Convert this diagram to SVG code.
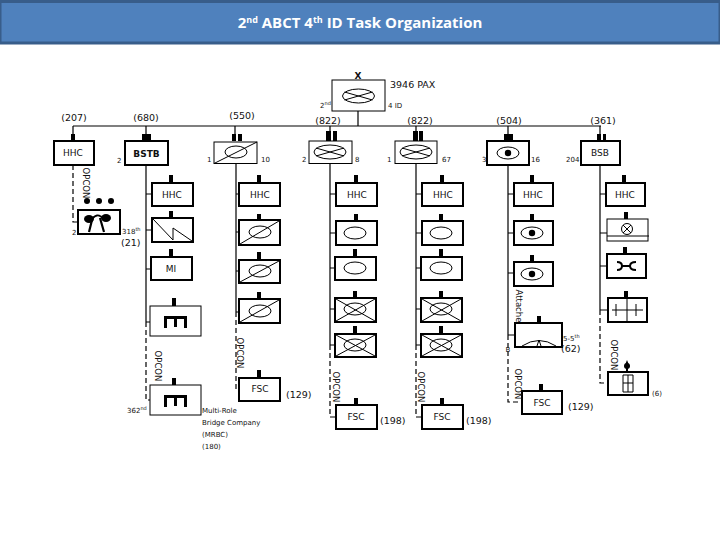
<svg xmlns="http://www.w3.org/2000/svg" width="720" height="540" viewBox="0 0 720 540">
<style>
text{font-family:"DejaVu Sans","Liberation Sans",sans-serif;font-size:9px;fill:#111}
.s{font-size:7px}
.l{font-size:9.5px}
.m{text-anchor:middle}
.b{font-weight:bold}
.h{font-family:"Open Sans","Liberation Sans",sans-serif;font-weight:bold;font-size:15px;fill:#fff;text-anchor:middle}
.v{font-size:8.5px;text-anchor:middle}
.n{fill:#fff;stroke:#000;stroke-width:2}
.t{fill:#fff;stroke:#000;stroke-width:1}
.i{fill:none;stroke:#000;stroke-width:1}
.c{fill:none;stroke:#000;stroke-width:1.2}
.d{fill:none;stroke:#000;stroke-width:1.2;stroke-dasharray:5 3}
.k{fill:#000;stroke:none}
</style>
<defs>
<g id="eye"><ellipse class="i" rx="11" ry="6"/><circle class="k" r="3.2"/></g>
<g id="oval"><ellipse class="i" rx="11" ry="6"/></g>
<g id="xoval"><ellipse class="i" rx="16" ry="7"/><path class="i" d="M-14-4 14 4M-14 4 14-4"/></g>
<g id="bridge"><path d="M-10 7V-3.500H10V7M0-3.500V6" fill="none" stroke="#000" stroke-width="3"/></g>
</defs>
<g id="title"><rect x="0" y="1.500" width="720" height="41.500" fill="#4f81bd" stroke="#385d8a" stroke-width="3"/><text class="h" x="360" y="28">2<tspan font-size="9" dy="-5">nd</tspan><tspan dy="5"> ABCT 4</tspan><tspan font-size="9" dy="-5">th</tspan><tspan dy="5"> ID Task Organization</tspan></text></g>
<g id="connectors">
<path class="c" d="M73 126H601M358 111V126M73 126V141M146 126V141M235 126V141M330 126V141M416 126V141M508 126V141M600 126V141"/>
<path class="c" d="M146 165V322M146 194H152M146 230H152M146 269H151M146 322H150"/>
<path class="c" d="M236 163V312M236 194H239M236 232H239M236 271H239M236 312H239"/>
<path class="c" d="M330 163V345M330 194H336M330 233H336M330 268H335M330 309H335M330 345H335"/>
<path class="c" d="M416 163V345M416 194H422M416 233H422M416 268H421M416 309H421M416 345H421"/>
<path class="c" d="M508 165V335M508 194H514M508 233H514M508 273H514M508 335H515"/>
<path class="c" d="M600 165V310M600 194H606M600 233H607M600 266H607M600 310H608"/>
<path class="d" d="M73 165V222H78M146 322V400H150M236 312V389H239M330 345V417H336M416 345V417H422M508 335V402H522M600 310V383H608"/>
<g fill="#000">
<rect x="71" y="134" width="4" height="7"/><rect x="142" y="134" width="9" height="7"/><rect x="232" y="134" width="4" height="7"/><rect x="238" y="134" width="4" height="7"/><rect x="326" y="131" width="5" height="10"/><rect x="333" y="131" width="4" height="10"/><rect x="413" y="131" width="5" height="10"/><rect x="419" y="131" width="4" height="10"/><rect x="504" y="134" width="9" height="7"/><rect x="597" y="134" width="4" height="7"/><rect x="603" y="134" width="3" height="7"/>
<rect x="169" y="175" width="4" height="8"/><rect x="169" y="211" width="4" height="7"/><rect x="169" y="249" width="4" height="8"/><rect x="172" y="298" width="4" height="8"/><rect x="172" y="378" width="4" height="7"/>
<rect x="257" y="175" width="4" height="8"/><rect x="257" y="214" width="4" height="6"/><rect x="257" y="252" width="4" height="8"/><rect x="257" y="292" width="4" height="7"/><rect x="257" y="370" width="4" height="8"/>
<rect x="354" y="175" width="4" height="8"/><rect x="354" y="214" width="4" height="7"/><rect x="353" y="249" width="4" height="8"/><rect x="353" y="291" width="4" height="7"/><rect x="353" y="326" width="4" height="8"/><rect x="354" y="398" width="4" height="7"/>
<rect x="440" y="175" width="4" height="8"/><rect x="439" y="214" width="4" height="7"/><rect x="439" y="249" width="4" height="8"/><rect x="439" y="291" width="4" height="7"/><rect x="439" y="326" width="4" height="8"/><rect x="440" y="398" width="4" height="7"/>
<rect x="530" y="175" width="4" height="8"/><rect x="530" y="214" width="4" height="7"/><rect x="530" y="255" width="4" height="7"/><rect x="537" y="316" width="4" height="7"/><rect x="539" y="384" width="4" height="7"/>
<rect x="622" y="175" width="4" height="8"/><rect x="624" y="212" width="4" height="7"/><rect x="623" y="247" width="4" height="7"/><rect x="624" y="291" width="4" height="7"/>
</g>
</g>
<g id="top"><rect class="t" x="332" y="80" width="53" height="31"/><use href="#xoval" x="358.500" y="96"/><text class="m b" x="358" y="79">X</text><text x="390" y="88" class="l">3946 PAX</text><text x="320" y="108" class="s">2<tspan font-size="5" dy="-3">nd</tspan></text><text x="388" y="108" class="s">4 ID</text></g>
<g id="hhc-bde"><rect class="n" x="54" y="141" width="40" height="24"/><text class="m" x="73" y="156">HHC</text><text class="m l" x="74" y="121">(207)</text></g>
<g id="bstb"><rect class="n" x="125" y="141" width="43" height="24"/><text class="m b" x="146.500" y="157" font-size="10.500">BSTB</text><text class="s" x="117" y="163">2</text><text class="m l" x="146" y="121">(680)</text></g>
<g id="bstb-hhc"><rect class="n" x="152" y="183" width="41" height="23"/><text class="m" x="172" y="198">HHC</text></g>
<g id="signal"><rect class="n" x="152" y="218" width="41" height="24"/><path class="i" d="M153 219 173 240V228L192 241"/><text class="s" x="122" y="233.500">318<tspan font-size="5" dy="-3">th</tspan></text><text class="l" x="121" y="245.500">(21)</text></g>
<g id="mi"><rect class="n" x="151" y="257" width="41" height="23"/><text class="m" x="171" y="272">MI</text></g>
<g id="engineer-1"><rect class="t" x="150" y="306" width="51" height="30"/><use href="#bridge" x="175.500" y="321"/></g>
<g id="engineer-2"><rect class="t" x="150" y="385" width="51" height="30"/><use href="#bridge" x="175.500" y="400"/><text class="v" transform="translate(155 366) rotate(90)">OPCON</text><text class="s" x="127" y="413">362<tspan font-size="5" dy="-3">nd</tspan></text><text class="s" x="202" y="413">Multi-Role</text><text class="s" x="202" y="425">Bridge Company</text><text class="s" x="202" y="437">(MRBC)</text><text class="s" x="202" y="449">(180)</text></g>
<g id="ab-recon"><rect class="n" x="78" y="210" width="42" height="24"/><path d="M89 232 92 220M104 232 100 218" fill="none" stroke="#000" stroke-width="2.200"/><path d="M90 222Q97 210 104 220" fill="none" stroke="#000" stroke-width="1.800"/><ellipse class="k" cx="89" cy="219" rx="5" ry="4"/><ellipse class="k" cx="106" cy="218" rx="5" ry="4"/><circle class="k" cx="87" cy="201" r="3"/><circle class="k" cx="99" cy="201" r="3"/><circle class="k" cx="111" cy="201" r="3"/><text class="s" x="72" y="235">2</text><text class="v" transform="translate(83 183) rotate(90)">OPCON</text></g>
<g id="cab1"><rect class="t" x="214" y="142" width="43" height="21.500"/><path class="i" d="M214 163.500 257 142"/><use href="#oval" x="236" y="152"/><text class="s" x="207" y="162">1</text><text class="s" x="261" y="162">10</text><text class="m l" x="242" y="119">(550)</text></g>
<g id="c1"><rect class="n" x="239" y="183" width="41" height="23"/><text class="m" x="260" y="198">HHC</text></g>
<g id="c2"><rect class="n" x="239" y="220" width="41" height="25"/><use href="#oval" x="260" y="232"/><path class="i" d="M240 244 279 221"/></g>
<g id="c3"><rect class="n" x="239" y="260" width="41" height="23"/><use href="#oval" x="260" y="271"/><path class="i" d="M240 282 279 261"/></g>
<g id="c4"><rect class="n" x="239" y="299" width="41" height="24"/><use href="#oval" x="260" y="311"/><path class="i" d="M240 322 279 300"/></g>
<g id="c5"><rect class="n" x="239" y="378" width="41" height="23"/><text class="m" x="260" y="392">FSC</text><text class="l" x="286" y="398">(129)</text><text class="v" transform="translate(237 353) rotate(90)">OPCON</text></g>
<g id="cab2"><rect class="t" x="309" y="141" width="43" height="22.500"/><use href="#xoval" x="330" y="152"/><text class="s" x="302" y="162">2</text><text class="s" x="355" y="162">8</text><text class="m l" x="328" y="124">(822)</text></g>
<g id="d1"><rect class="n" x="336" y="183" width="41" height="23"/><text class="m" x="357" y="198">HHC</text></g>
<g id="d2"><rect class="n" x="336" y="221" width="41" height="24"/><use href="#oval" x="355" y="233"/></g>
<g id="d3"><rect class="n" x="335" y="257" width="41" height="23"/><use href="#oval" x="355" y="268"/></g>
<g id="d4"><rect class="n" x="335" y="298" width="41" height="24"/><path class="i" d="M336 299 375 321M336 321 375 299"/><use href="#oval" x="355" y="309"/></g>
<g id="d5"><rect class="n" x="335" y="334" width="41" height="23"/><path class="i" d="M336 335 375 356M336 356 375 335"/><use href="#oval" x="355" y="345"/></g>
<g id="d6"><rect class="n" x="336" y="405" width="41" height="24"/><text class="m" x="356" y="420">FSC</text><text class="l" x="380" y="424">(198)</text><text class="v" transform="translate(333 387) rotate(90)">OPCON</text></g>
<g id="cab3"><rect class="t" x="395" y="141" width="42" height="22.500"/><use href="#xoval" x="416" y="152"/><text class="s" x="387" y="162">1</text><text class="s" x="442" y="162">67</text><text class="m l" x="420" y="124">(822)</text></g>
<g id="e1"><rect class="n" x="422" y="183" width="41" height="23"/><text class="m" x="443" y="198">HHC</text></g>
<g id="e2"><rect class="n" x="422" y="221" width="41" height="24"/><use href="#oval" x="441" y="233"/></g>
<g id="e3"><rect class="n" x="421" y="257" width="41" height="23"/><use href="#oval" x="441" y="268"/></g>
<g id="e4"><rect class="n" x="421" y="298" width="41" height="24"/><path class="i" d="M422 299 461 321M422 321 461 299"/><use href="#oval" x="441" y="309"/></g>
<g id="e5"><rect class="n" x="421" y="334" width="41" height="23"/><path class="i" d="M422 335 461 356M422 356 461 335"/><use href="#oval" x="441" y="345"/></g>
<g id="e6"><rect class="n" x="422" y="405" width="41" height="24"/><text class="m" x="442" y="420">FSC</text><text class="l" x="466" y="424">(198)</text><text class="v" transform="translate(418 387) rotate(90)">OPCON</text></g>
<g id="recon"><rect class="n" x="487" y="141" width="42" height="24"/><use href="#eye" x="508" y="153"/><text class="s" x="482" y="162">3</text><text class="s" x="531" y="162">16</text><text class="m l" x="509" y="124">(504)</text></g>
<g id="f1"><rect class="n" x="514" y="183" width="39" height="23"/><text class="m" x="533" y="198">HHC</text></g>
<g id="f2"><rect class="n" x="514" y="221" width="39" height="24"/><use href="#eye" x="532" y="233"/></g>
<g id="f3"><rect class="n" x="514" y="262" width="39" height="24"/><use href="#eye" x="532" y="274"/></g>
<g id="f4"><rect class="n" x="515" y="323" width="47" height="24"/><path class="i" d="M522 346Q539 335 556 346M539 340 537 346M539 340 541 346"/><text class="s" x="563" y="340.500">5-5<tspan font-size="5" dy="-3">th</tspan></text><text class="l" x="561" y="351.500">(62)</text><text class="s m" x="508" y="352">B</text><text class="v" transform="translate(516 306) rotate(90)">Attache</text></g>
<g id="f5"><rect class="n" x="522" y="391" width="40" height="23"/><text class="m" x="542" y="406">FSC</text><text class="l" x="568" y="410">(129)</text><text class="v" transform="translate(515 384) rotate(90)">OPCON</text></g>
<g id="bsb"><rect class="n" x="581" y="141" width="39" height="24"/><text class="m" x="600" y="156">BSB</text><text class="s" x="566" y="162">204</text><text class="m l" x="603" y="124">(361)</text></g>
<g id="g1"><rect class="n" x="606" y="183" width="39" height="23"/><text class="m" x="625" y="198">HHC</text></g>
<g id="g2"><rect class="t" x="607" y="219" width="41" height="22"/><path class="i" d="M607 236H649M623 225 631 233M631 225 623 233"/><circle class="i" cx="627" cy="229" r="5.500"/></g>
<g id="g3"><rect class="n" x="607" y="254" width="39" height="24"/><path d="M617 262Q622 262 622 266Q622 270 617 270M636 262Q630 262 630 266Q630 270 636 270M622 266H630" fill="none" stroke="#000" stroke-width="2"/></g>
<g id="g4"><rect class="n" x="608" y="298" width="39" height="24"/><path class="i" d="M627 298V322M616 304V316M636 304V316M612 310H643"/></g>
<g id="g5"><rect class="n" x="608" y="372" width="40" height="23"/><path class="i" d="M623 375H633V392H623ZM628 375V392M623 383H633" stroke-width="1.500"/><circle class="k" cx="627" cy="366" r="3"/><path class="k" d="M627 360 625 365H629ZM626 368H628V372H626Z"/><text class="s" x="652" y="396">(6)</text><text class="v" transform="translate(611 355) rotate(90)">OPCON</text></g>
</svg>
